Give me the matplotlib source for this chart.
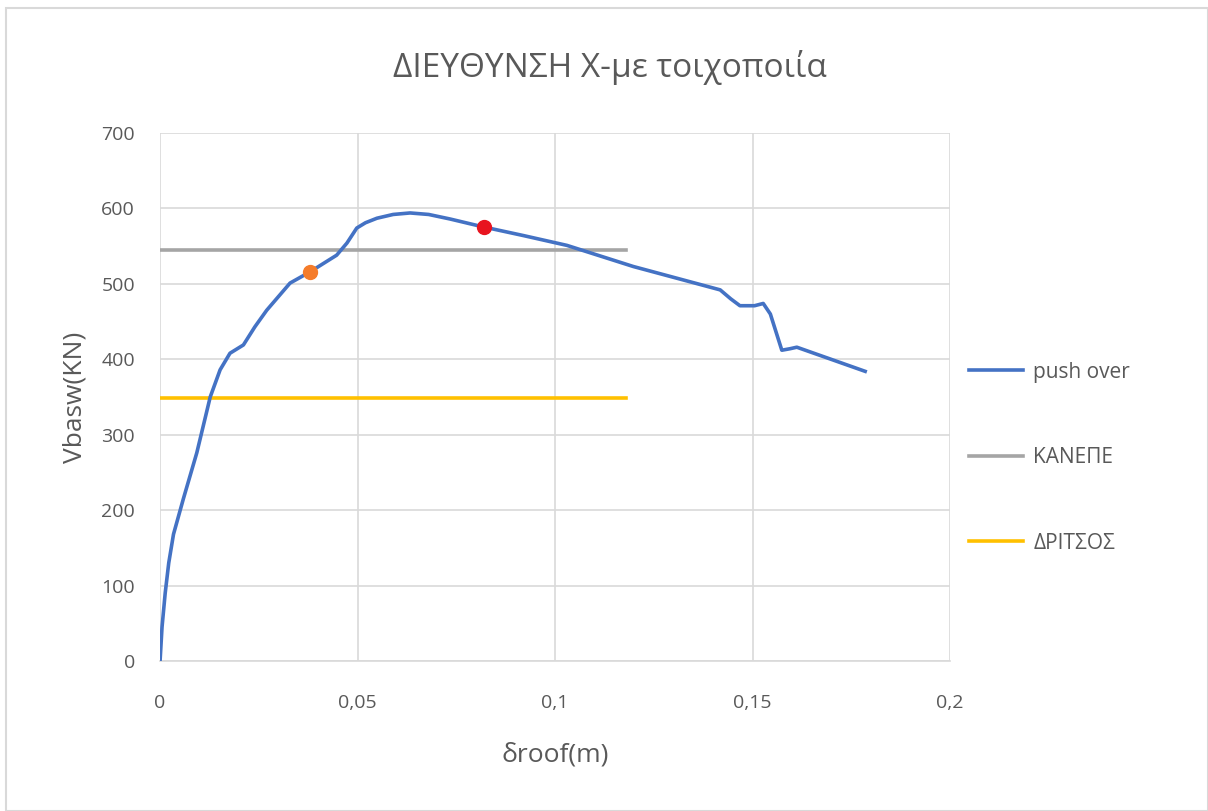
import matplotlib.pyplot as plt
from matplotlib.patches import Rectangle
from matplotlib.ticker import FuncFormatter

plt.rcParams['font.family'] = ['Open Sans', 'DejaVu Sans']

# push over curve (δroof in m, Vbasw in kN)
droof = [0, 0.0005, 0.0013, 0.0022, 0.0034, 0.0059, 0.0093, 0.0127, 0.0152,
         0.0177, 0.0211, 0.024, 0.027, 0.0329, 0.038, 0.0447, 0.0473, 0.0498,
         0.052, 0.0549, 0.059, 0.0633, 0.068, 0.0734, 0.0814, 0.092, 0.103,
         0.1198, 0.1418, 0.1445, 0.1468, 0.1505, 0.1527, 0.1545, 0.1574,
         0.1595, 0.1612, 0.1785]
vbase = [0, 45, 90, 130, 168, 215, 276, 350, 386, 408, 419, 443, 465, 501,
         516, 538, 554, 574, 581, 587, 592, 594, 592, 586, 576, 564, 551,
         523, 492, 480, 471, 471, 474, 460, 412, 414, 416, 384]

# horizontal reference lines
ref_x = [0, 0.118]
kanepe = [545, 545]
dritsos = [348, 348]

# marked points
orange_pt = (0.038, 516)
red_pt = (0.082, 576)

grey = '#595959'

fig = plt.figure(figsize=(12.08, 8.11), dpi=100)
ax = fig.add_axes([0.1325, 0.185, 0.654, 0.651])

ax.plot(droof, vbase, color='#4472C4', lw=2.6, label='push over', zorder=3)
ax.plot(ref_x, kanepe, color='#A5A5A5', lw=2.6, label='ΚΑΝΕΠΕ', zorder=2)
ax.plot(ref_x, dritsos, color='#FFC000', lw=2.6, label='ΔΡΙΤΣΟΣ', zorder=2)
ax.plot(*orange_pt, 'o', color='#F57C2A', ms=10, zorder=4)
ax.plot(*red_pt, 'o', color='#E8141F', ms=10, zorder=4)

ax.set_xlim(0, 0.2)
ax.set_ylim(0, 700)
ax.set_xticks([0, 0.05, 0.1, 0.15, 0.2])
ax.set_yticks(range(0, 701, 100))
ax.xaxis.set_major_formatter(FuncFormatter(lambda v, p: ('%g' % round(v, 3)).replace('.', ',')))
ax.grid(True, color='#D9D9D9', lw=1.2)
ax.set_axisbelow(True)
for s in ['top', 'right', 'left']:
    ax.spines[s].set_visible(False)
ax.spines['bottom'].set_color('#D9D9D9')
ax.spines['bottom'].set_linewidth(1.2)
ax.tick_params(length=0, labelsize=14, colors=grey)
ax.tick_params(axis='x', pad=24)
ax.tick_params(axis='y', pad=18)

fig.text(0.505, 0.917, 'ΔΙΕΥΘΥΝΣΗ Χ-με τοιχοποιία', fontsize=24, color=grey,
         ha='center', va='center')
ax.set_xlabel('δroof(m)', fontsize=19, color=grey, labelpad=22)
ax.set_ylabel('Vbasw(KN)', fontsize=19, color=grey, labelpad=10)

ax.legend(loc='center left', bbox_to_anchor=(1.0, 0.385), frameon=False,
          fontsize=15, labelcolor=grey, labelspacing=3.1, handlelength=2.6,
          handletextpad=0.5)

fig.patches.append(Rectangle((0.005, 0.0), 0.995, 0.99, transform=fig.transFigure,
                             fill=False, edgecolor='#D9D9D9', lw=1.5))

fig.savefig('out.png', dpi=100)
